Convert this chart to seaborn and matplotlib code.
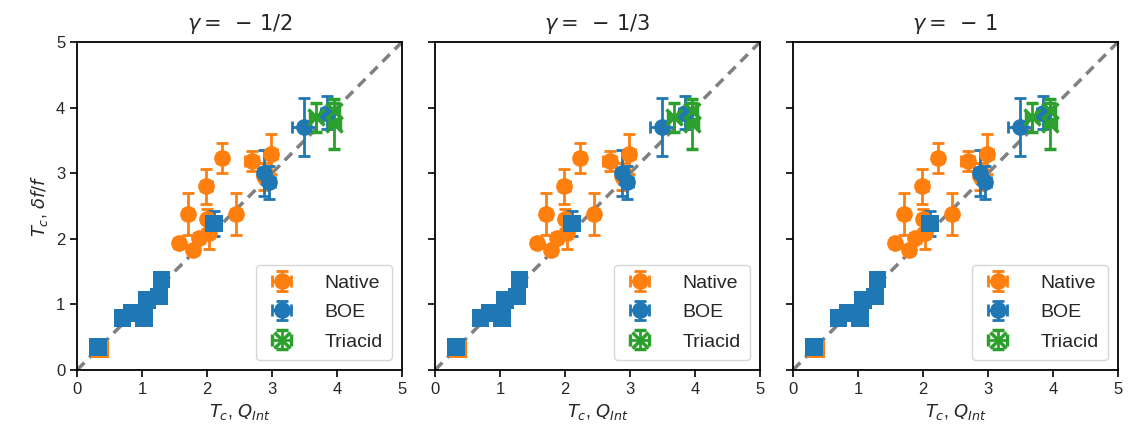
import numpy as np
import pandas as pd
import matplotlib
matplotlib.use("Agg")
import matplotlib.pyplot as plt
import seaborn as sns

# Native samples (circles, with error bars)
native_x = [1.57, 1.78, 1.88, 2.03, 2.00, 1.71, 1.99, 2.23, 2.45, 2.69, 2.88, 2.99]
native_y = [1.93, 1.83, 2.01, 2.09, 2.30, 2.38, 2.80, 3.23, 2.38, 3.19, 2.95, 3.29]
native_xerr = [0.08, 0.08, 0.08, 0.08, 0.08, 0.08, 0.08, 0.08, 0.08, 0.10, 0.08, 0.08]
native_yerr = [0.05, 0.05, 0.08, 0.24, 0.15, 0.32, 0.27, 0.23, 0.32, 0.15, 0.20, 0.30]

# Native sample without error bars (square)
native_sq_x = [0.35]
native_sq_y = [0.31]

# BOE samples (circles, with error bars)
boe_x = [2.87, 2.96, 3.49, 3.85]
boe_y = [3.01, 2.86, 3.70, 3.92]
boe_xerr = [0.08, 0.08, 0.18, 0.10]
boe_yerr = [0.35, 0.25, 0.44, 0.25]

# BOE samples (squares)
boe_sq_x = [0.32, 0.70, 0.85, 1.03, 1.08, 1.26, 1.30, 2.11]
boe_sq_y = [0.35, 0.79, 0.87, 0.79, 1.07, 1.12, 1.38, 2.23]
boe_sq_yerr = [0.0, 0.0, 0.0, 0.0, 0.0, 0.0, 0.0, 0.19]

# Triacid samples
tri_x = [3.67, 3.95, 3.96]
tri_y = [3.85, 3.95, 3.75]
tri_xerr = [0.08, 0.08, 0.08]
tri_yerr = [0.22, 0.12, 0.38]

gammas = [r"$\gamma =\;-\,1/2$", r"$\gamma =\;-\,1/3$", r"$\gamma =\;-\,1$"]
ticks = [0, 1, 2, 3, 4, 5]

sns.set_style("ticks")
plt.rcParams["font.family"] = ["Liberation Sans", "DejaVu Sans"]
plt.rcParams["mathtext.fontset"] = "dejavusans"

orange = "#ff7f0e"
blue = "#1f77b4"
green = "#2ca02c"

squares = pd.DataFrame({
    "x": native_sq_x + boe_sq_x,
    "y": native_sq_y + boe_sq_y,
    "group": ["Native"] * len(native_sq_x) + ["BOE"] * len(boe_sq_x),
})

fig = plt.figure(figsize=(11.35, 4.45), dpi=100)
W, H = 1135, 445
lefts = [77, 435, 793]
axes = [fig.add_axes([l / W, 75 / H, 325 / W, 328 / H]) for l in lefts]

eb = dict(capsize=4, elinewidth=2, capthick=2, markersize=11)

for i, ax in enumerate(axes):
    ax.axline((0, 0), slope=1, color="gray", ls="--", lw=2.5, zorder=0,
              dashes=(3, 2))

    ax.errorbar(native_x, native_y, xerr=native_xerr, yerr=native_yerr,
                fmt="o", color=orange, label="Native", **eb)
    sns.scatterplot(data=squares[squares.group == "Native"], x="x", y="y",
                    marker="s", s=160, color=orange, edgecolor="none",
                    ax=ax, legend=False)
    ax.errorbar(boe_x, boe_y, xerr=boe_xerr, yerr=boe_yerr,
                fmt="o", color=blue, label="BOE", **eb)
    ax.errorbar(boe_sq_x, boe_sq_y, yerr=boe_sq_yerr, fmt="none",
                ecolor=blue, capsize=4, elinewidth=2, capthick=2)
    sns.scatterplot(data=squares[squares.group == "BOE"], x="x", y="y",
                    marker="s", s=160, color=blue, edgecolor="none",
                    ax=ax, legend=False, zorder=3)
    ax.errorbar(tri_x, tri_y, xerr=tri_xerr, yerr=tri_yerr,
                fmt="x", color=green, mew=2.5, label="Triacid", **eb)

    ax.set_xlim(0, 5)
    ax.set_ylim(0, 5)
    ax.set_xticks(ticks)
    ax.set_yticks(ticks)
    ax.tick_params(labelsize=12, length=5, width=1.2, color="black")
    for s in ax.spines.values():
        s.set_color("black")
        s.set_linewidth(1.3)
    ax.set_title(gammas[i], fontsize=15, pad=9)
    ax.set_xlabel(r"$T_c$, $Q_{Int}$", fontsize=13)
    if i == 0:
        ax.set_ylabel(r"$T_c$, $\delta f/f$", fontsize=13)
    else:
        ax.set_ylabel("")
        ax.set_yticklabels([])
    ax.legend(loc="lower right", fontsize=14, handletextpad=1.4,
              borderpad=0.5, labelspacing=0.6, handlelength=1.6)

fig.savefig("out.png", dpi=100)
